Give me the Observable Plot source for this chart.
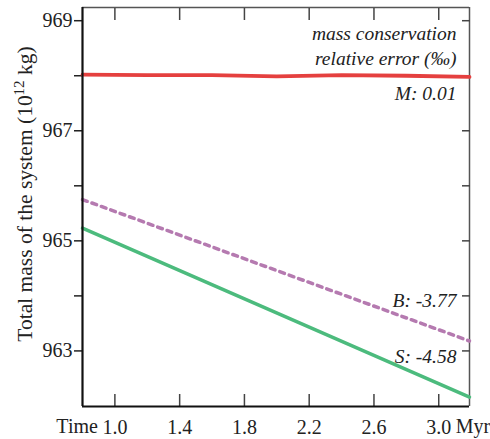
<!DOCTYPE html>
<html>
<head>
<meta charset="utf-8">
<script src="https://cdn.jsdelivr.net/npm/d3@7"></script>
<script src="https://cdn.jsdelivr.net/npm/@observablehq/plot@0.6"></script>
<style>
  body { margin: 0; background: #fff; }
  svg, svg text { font-family: "Liberation Serif", serif; }
</style>
</head>
<body>
<div id="chart"></div>
<script>
const timeM = [0.8, 1.2, 1.6, 2.0, 2.4, 2.8, 3.19];
const massM = [968.02, 968.01, 968.01, 967.99, 968.01, 968.0, 967.98];
const timeB = [0.8, 3.19];
const massB = [965.75, 963.18];
const timeS = [0.8, 3.19];
const massS = [965.23, 962.16];
const xTicks = [1.0, 1.4, 1.8, 2.2, 2.6, 3.0];
const xTickLabels = ["1.0", "1.4", "1.8", "2.2", "2.6", "3.0"];
const yMajor = [963, 965, 967, 969];
const yAll = [963, 964, 965, 966, 967, 968, 969];
const labels = [
  {t: "mass conservation", y: 968.76},
  {t: "relative error (‰)", y: 968.31},
  {t: "M: 0.01", y: 967.67},
  {t: "B: -3.77", y: 963.91},
  {t: "S: -4.58", y: 962.89}
];

const M = timeM.map((t, i) => ({t, v: massM[i]}));
const B = timeB.map((t, i) => ({t, v: massB[i]}));
const S = timeS.map((t, i) => ({t, v: massS[i]}));

const xmin = 0.8, xmax = 3.19, ymin = 961.99, ymax = 969.24;
const serif = "Liberation Serif, Times New Roman, DejaVu Serif, serif";
const blank = () => "";

const chart = Plot.plot({
  width: 490,
  height: 439,
  marginLeft: 82,
  marginRight: 21,
  marginTop: 7,
  marginBottom: 33,
  style: {fontFamily: serif, fontSize: "20px", background: "#fff"},
  x: {domain: [xmin, xmax], axis: null},
  y: {domain: [ymin, ymax], axis: null},
  marks: [
    // frame lines
    Plot.ruleY([ymax], {stroke: "#555", strokeWidth: 1.5}),
    Plot.ruleX([xmax], {stroke: "#555", strokeWidth: 1.5}),
    // ticks
    Plot.axisY({ticks: yAll, anchor: "left", tickSize: 8, tickFormat: blank, label: null, stroke: "#222", strokeWidth: 1.5}),
    Plot.axisY({ticks: yAll, anchor: "right", tickSize: -8, tickFormat: blank, label: null, stroke: "#444", strokeWidth: 1.5}),
    Plot.axisX({ticks: xTicks, anchor: "bottom", tickSize: -12, tickFormat: blank, label: null, stroke: "#444", strokeWidth: 1.5}),
    Plot.axisX({ticks: xTicks, anchor: "top", tickSize: -12, tickFormat: blank, label: null, stroke: "#444", strokeWidth: 1.5}),
    // series
    Plot.line(S, {x: "t", y: "v", stroke: "#4cbb7d", strokeWidth: 3.5}),
    Plot.line(B, {x: "t", y: "v", stroke: "#b57ab0", strokeWidth: 3.5, strokeDasharray: "5,5"}),
    Plot.line(M, {x: "t", y: "v", stroke: "#e5403f", strokeWidth: 3.8}),
    // main axis lines
    Plot.ruleX([xmin], {stroke: "#111", strokeWidth: 2.2}),
    Plot.ruleY([ymin], {stroke: "#111", strokeWidth: 2.2}),
    // tick labels
    Plot.text(yMajor, {x: xmin, y: d => d, text: d => String(d), textAnchor: "end", dx: -10, fontSize: 20, fontFamily: serif, fill: "#222"}),
    Plot.text(xTicks, {x: d => d, y: ymin, text: (d, i) => xTickLabels[i], textAnchor: "middle", dy: 21, fontSize: 20, fontFamily: serif, fill: "#222"}),
    Plot.text(["Time"], {x: xTicks[0], y: ymin, text: d => d, textAnchor: "end", dx: -17, dy: 20, fontSize: 20, fontFamily: serif, fill: "#222"}),
    Plot.text(["Myr"], {x: xTicks[xTicks.length - 1], y: ymin, text: d => d, textAnchor: "start", dx: 17, dy: 20, fontSize: 20, fontFamily: serif, fill: "#222"}),
    // annotations
    Plot.text(labels, {x: xmax, y: "y", text: "t", textAnchor: "end", dx: -13, fontSize: 19.5, fontFamily: serif, fontStyle: "italic", fill: "#222"})
  ]
});

// y-axis title with superscript
const svg = d3.select(chart);
const title = svg.append("text")
  .attr("transform", "translate(32,194) rotate(-90)")
  .attr("text-anchor", "middle")
  .attr("font-size", 21.5)
  .attr("fill", "#222")
  .attr("font-family", serif);
title.append("tspan").text("Total mass of the system (10");
title.append("tspan").attr("dy", -8).attr("font-size", 15).text("12");
title.append("tspan").attr("dy", 8).text(" kg)");

document.getElementById("chart").appendChild(chart);
</script>
</body>
</html>
